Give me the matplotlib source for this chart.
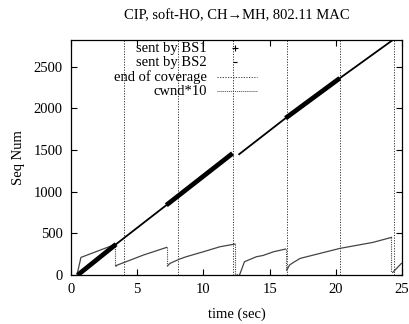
import numpy as np
import matplotlib
matplotlib.use("Agg")
import matplotlib.pyplot as plt

plt.rcParams["font.family"] = ["Liberation Serif", "DejaVu Serif"]

# sequence numbers (time in sec, seq num)
bs1_t = [0.5, 3.4, np.nan, 7.2, 12.2, np.nan, 16.2, 20.3]
bs1_seq = [0, 370, np.nan, 839, 1460, np.nan, 1882, 2362]
bs2_t = [3.4, 7.2, np.nan, 12.7, 16.2, np.nan, 20.3, 24.3]
bs2_seq = [370, 839, np.nan, 1450, 1882, np.nan, 2362, 2820]

# handoff instants (end of coverage)
coverage_end = [4.0, 8.1, 12.2, 16.3, 20.35, 24.4]

# cwnd*10, one list per growth phase
cwnd_t = [
    [0.45, 0.75, 3.34],
    [3.37, 5.46, 7.22],
    [7.3, 7.47, 8.2, 8.7, 10.0, 11.25, 12.38],
    [12.75, 13.1, 14.0, 14.5, 15.3, 16.2],
    [16.3, 16.5, 16.8, 17.3, 17.8, 20.3, 22.8, 24.2],
    [24.35, 24.95],
]
cwnd_val = [
    [0, 212, 368],
    [112, 240, 332],
    [112, 140, 192, 220, 280, 340, 372],
    [10, 160, 220, 235, 280, 312],
    [60, 120, 152, 200, 220, 320, 392, 452],
    [40, 140],
]

fig = plt.figure(figsize=(4.09, 3.24), dpi=100)
ax = fig.add_axes([0.1736, 0.151, 0.8094, 0.7255])

for x in coverage_end:
    ax.axvline(x, color="#333333", lw=0.7, ls=(0, (1.2, 1.5)))

# cwnd: solid growth, dotted drops
for i, (t, v) in enumerate(zip(cwnd_t, cwnd_val)):
    ax.plot(t, v, color="#444444", lw=0.9)
    if i + 1 < len(cwnd_t):
        ax.plot([t[-1], t[-1], cwnd_t[i + 1][0]],
                [v[-1], cwnd_val[i + 1][0], cwnd_val[i + 1][0]],
                color="#444444", lw=0.8, ls=(0, (1, 1)))

ax.plot(bs2_t, bs2_seq, color="black", lw=1.3)
ax.plot(bs1_t, bs1_seq, color="black", lw=3.4, solid_capstyle="butt")

ax.set_xlim(0, 25)
ax.set_ylim(0, 2820)
ax.set_xticks([0, 5, 10, 15, 20, 25])
ax.set_yticks([0, 500, 1000, 1500, 2000, 2500])
ax.tick_params(direction="in", length=4, width=0.8, labelsize=10.5,
               top=True, right=True, pad=6)
for s in ax.spines.values():
    s.set_linewidth(0.9)
ax.set_xlabel("time (sec)", fontsize=10.5, labelpad=8)
ax.set_ylabel("Seq Num", fontsize=10.5, labelpad=6)
ax.set_title("CIP, soft-HO, CH\u2192MH, 802.11 MAC", fontsize=10.5, pad=15)

# gnuplot-style key: right-aligned text, sample to the right
labels = ["sent by BS1", "sent by BS2", "end of coverage", "cwnd*10"]
rows = [0.966, 0.906, 0.843, 0.783]
tr = ax.transAxes
for lab, y in zip(labels, rows):
    ax.text(0.411, y, lab, transform=tr, ha="right", va="center", fontsize=10.5)
ax.plot([0.495], [rows[0]], transform=tr, marker="+", ms=4, mew=0.8,
        color="black", ls="none")
ax.plot([0.495], [rows[1]], transform=tr, marker="_", ms=3, mew=0.8,
        color="black", ls="none")
ax.plot([0.441, 0.562], [rows[2]] * 2, transform=tr, color="#333333",
        lw=0.7, ls=(0, (1.2, 1.5)))
ax.plot([0.441, 0.562], [rows[3]] * 2, transform=tr, color="#444444",
        lw=0.7, ls=(0, (1, 1)))

fig.savefig("out.png", dpi=100)
